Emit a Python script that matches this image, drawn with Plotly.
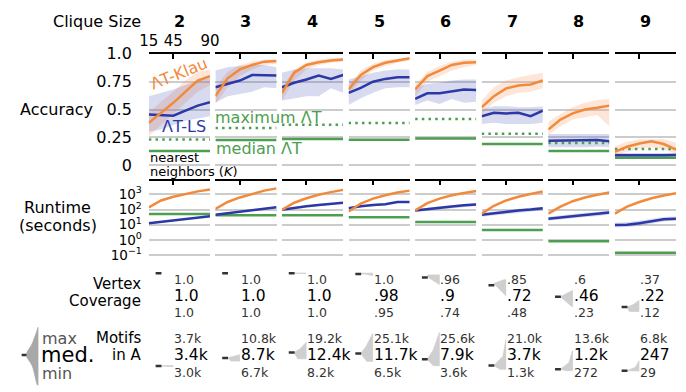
import plotly.graph_objects as go

# ---------------- data ----------------
K = [15, 30, 45, 60, 75, 90]
clique_sizes = ["2", "3", "4", "5", "6", "7", "8", "9"]

acc_klau = [
    [0.38, 0.47, 0.56, 0.66, 0.76, 0.80],
    [0.62, 0.78, 0.86, 0.90, 0.93, 0.935],
    [0.65, 0.83, 0.90, 0.925, 0.94, 0.95],
    [0.68, 0.81, 0.88, 0.92, 0.94, 0.96],
    [0.68, 0.80, 0.85, 0.90, 0.92, 0.925],
    [0.52, 0.62, 0.69, 0.715, 0.725, 0.76],
    [0.32, 0.41, 0.465, 0.50, 0.515, 0.535],
    [0.12, 0.165, 0.195, 0.215, 0.19, 0.14],
]
acc_klau_lo = [
    [0.26, 0.36, 0.46, 0.56, 0.66, 0.72],
    [0.55, 0.70, 0.80, 0.86, 0.90, 0.91],
    [0.58, 0.76, 0.86, 0.90, 0.92, 0.93],
    [0.64, 0.76, 0.85, 0.89, 0.92, 0.94],
    [0.62, 0.75, 0.80, 0.85, 0.88, 0.90],
    [0.46, 0.56, 0.62, 0.65, 0.66, 0.69],
    [0.27, 0.35, 0.41, 0.43, 0.45, 0.35],
    [0.09, 0.12, 0.15, 0.16, 0.14, 0.10],
]
acc_klau_hi = [
    [0.47, 0.57, 0.66, 0.76, 0.84, 0.86],
    [0.70, 0.84, 0.90, 0.93, 0.95, 0.95],
    [0.70, 0.86, 0.92, 0.95, 0.96, 0.965],
    [0.72, 0.85, 0.91, 0.94, 0.955, 0.965],
    [0.72, 0.84, 0.89, 0.93, 0.95, 0.95],
    [0.58, 0.70, 0.76, 0.79, 0.81, 0.83],
    [0.39, 0.46, 0.52, 0.56, 0.585, 0.595],
    [0.17, 0.21, 0.23, 0.235, 0.235, 0.20],
]
acc_ls = [
    [0.455, 0.45, 0.445, 0.49, 0.535, 0.565],
    [0.70, 0.73, 0.76, 0.81, 0.81, 0.805],
    [0.70, 0.74, 0.77, 0.805, 0.775, 0.81],
    [0.65, 0.695, 0.75, 0.775, 0.79, 0.79],
    [0.595, 0.645, 0.645, 0.66, 0.68, 0.675],
    [0.44, 0.47, 0.465, 0.47, 0.44, 0.49],
    [0.22, 0.22, 0.22, 0.22, 0.225, 0.215],
    [0.09, 0.088, 0.088, 0.088, 0.09, 0.092],
]
acc_ls_lo = [
    [0.30, 0.32, 0.36, 0.40, 0.42, 0.44],
    [0.56, 0.62, 0.64, 0.66, 0.70, 0.69],
    [0.58, 0.60, 0.62, 0.62, 0.69, 0.65],
    [0.54, 0.60, 0.65, 0.69, 0.70, 0.70],
    [0.54, 0.58, 0.55, 0.595, 0.56, 0.57],
    [0.37, 0.38, 0.37, 0.37, 0.37, 0.38],
    [0.16, 0.165, 0.16, 0.16, 0.165, 0.16],
    [0.07, 0.07, 0.07, 0.07, 0.072, 0.075],
]
acc_ls_hi = [
    [0.62, 0.65, 0.68, 0.72, 0.76, 0.78],
    [0.85, 0.88, 0.89, 0.90, 0.90, 0.88],
    [0.83, 0.86, 0.87, 0.87, 0.87, 0.86],
    [0.77, 0.80, 0.83, 0.85, 0.86, 0.86],
    [0.70, 0.73, 0.74, 0.76, 0.77, 0.77],
    [0.50, 0.53, 0.53, 0.52, 0.52, 0.53],
    [0.28, 0.28, 0.28, 0.285, 0.28, 0.28],
    [0.11, 0.11, 0.105, 0.105, 0.11, 0.11],
]
acc_max_T = [0.23, 0.335, 0.364, 0.378, 0.415, 0.283, 0.20, 0.145]
acc_med_T = [0.127, 0.225, 0.234, 0.228, 0.24, 0.19, 0.127, 0.067]

# runtime in seconds
rt_klau = [
    [141, 398, 708, 1122, 1585, 2089],
    [110, 316, 631, 1122, 1778, 2512],
    [95.5, 282, 562, 955, 1413, 1995],
    [74, 251, 525, 891, 1318, 1778],
    [87, 263, 525, 891, 1259, 1698],
    [54, 178, 398, 708, 1072, 1549],
    [54, 158, 355, 631, 955, 1349],
    [54, 158, 316, 562, 851, 1202],
]
rt_ls = [
    [12.3, 15.1, 19.1, 23.4, 28.8, 35.5],
    [45.7, 57.5, 75.9, 91.2, 112, 141],
    [95.5, 132, 166, 200, 240, 282],
    [120, 166, 200, 224, 316, 316],
    [87, 110, 132, 158, 191, 219],
    [46, 58, 72, 87, 100, 120],
    [25, 30, 38, 46, 50, 65],
    [9.5, 10, 12.6, 17.4, 22.9, 25.1],
]
rt_ls_lo = [
    [11, 13.5, 17, 21, 26, 32],
    [41, 52, 68, 82, 100, 126],
    [85, 118, 148, 178, 214, 252],
    [100, 140, 170, 190, 270, 270],
    [70, 85, 100, 120, 145, 170],
    [33, 42, 52, 63, 75, 90],
    [18, 21, 26, 32, 36, 47],
    [6.5, 7, 8.5, 12, 16.5, 18],
]
rt_ls_hi = [
    [14, 17, 21, 26, 32, 39],
    [51, 64, 85, 102, 125, 158],
    [107, 148, 186, 224, 269, 316],
    [140, 195, 235, 265, 370, 370],
    [105, 135, 165, 195, 235, 270],
    [60, 75, 95, 112, 130, 155],
    [33, 40, 52, 62, 68, 88],
    [13.5, 14.5, 18.5, 25, 32, 35],
]
rt_med_T = [50, 42, 42, 31, 15, 4.4, 0.8, 0.14]

cov_max = [1.0, 1.0, 1.0, 1.0, 0.96, 0.85, 0.6, 0.37]
cov_med = [1.0, 1.0, 1.0, 0.98, 0.9, 0.72, 0.46, 0.22]
cov_min = [1.0, 1.0, 0.998, 0.95, 0.74, 0.48, 0.23, 0.12]
cov_shape = [
    [0, 0, 0, 0], [0, 0, 0, 0], [1, 1, 1, 1], [0.1, 0.6, 1.0, 0.9],
    [0.0, 0.85, 1.0, 0.95], [0.0, 0.9, 1.0, 0.15], [0.05, 1.0, 0.6, 0.0],
    [0.8, 1.0, 0.5, 0.0],
]
mot_max = [3700, 10800, 19200, 25100, 25600, 21000, 13600, 6800]
mot_med = [3400, 8700, 12400, 11700, 7900, 3700, 1200, 247]
mot_min = [3000, 6700, 8200, 6500, 3600, 1300, 272, 29]
mot_shape = [
    [0.6, 1.0, 0.8, 0.3], [0.7, 1.0, 0.6, 0.05], [0.7, 1.0, 0.5, 0.0],
    [0.5, 1.0, 0.55, 0.0], [0.5, 1.0, 0.5, 0.0], [0.5, 1.0, 0.25, 0.0],
    [0.5, 1.0, 0.3, 0.0], [0.5, 1.0, 0.3, 0.0],
]
legend_v = [0.0, 0.33, 0.52, 0.72, 1.0]
legend_w = [0.05, 0.5, 1.0, 0.5, 0.0]


def cov_label(v):
    if v >= 0.995:
        return "1.0"
    s = f"{v:g}"
    return s[1:] if s.startswith("0") else s


def mot_label(v):
    return f"{v/1000:.1f}k" if v >= 1000 else str(v)


# ---------------- style ----------------
ORANGE = "#f28a3c"
BLUE = "#2b38a6"
GREEN = "#4c9e50"
ORANGE_BAND = "rgba(248,160,110,0.28)"
BLUE_BAND = "rgba(60,70,175,0.20)"
GRID = "#cccccc"
FONT = "DejaVu Sans"
W, H = 686, 392

col_left = [143 + 68.57 * k for k in range(8)]
col_w = 63


def X(px):
    return px / W


def Y(py):
    return 1 - py / H


fig = go.Figure()
layout = dict(width=W, height=H, margin=dict(l=0, r=0, t=0, b=0),
              paper_bgcolor="white", plot_bgcolor="rgba(0,0,0,0)",
              showlegend=False, font=dict(family=FONT, color="black"))


def names(n):
    return ("x" if n == 1 else f"x{n}"), ("y" if n == 1 else f"y{n}")


def set_axes(n, xd, yd, xa, ya):
    xn, yn = names(n)
    layout["xaxis" if n == 1 else f"xaxis{n}"] = dict(domain=xd, anchor=yn, **xa)
    layout["yaxis" if n == 1 else f"yaxis{n}"] = dict(domain=yd, anchor=xn, **ya)


def add(n, **kw):
    xn, yn = names(n)
    fig.add_trace(go.Scatter(xaxis=xn, yaxis=yn, hoverinfo="skip", **kw))


top_x = dict(range=[15, 90], side="top", showline=True, linecolor="black",
             linewidth=1.5, ticks="inside", ticklen=5, tickwidth=1.5,
             tickcolor="black", tickvals=[15, 45, 90], showgrid=False,
             zeroline=False, tickfont=dict(size=15, family=FONT))
hidden = dict(visible=False)

GW = 12.5
for k in range(8):
    xd = [X(col_left[k]), X(col_left[k] + col_w)]
    # ---- accuracy ----
    n = 1 + k
    set_axes(n, xd, [Y(173.5), Y(46.5)],
             dict(top_x, showticklabels=(k == 0)),
             dict(range=[-0.1, 1.0], tickvals=[0, 0.25, 0.5, 0.75, 1.0],
                  ticktext=["0", "0.25", "0.5", "0.75", "1.0"], showgrid=True,
                  gridcolor=GRID, gridwidth=1.5, zeroline=False, ticks="",
                  showticklabels=(k == 0), ticklabelstandoff=16,
                  tickfont=dict(size=16, family=FONT)))
    add(n, x=K + K[::-1], y=acc_klau_hi[k] + acc_klau_lo[k][::-1], fill="toself",
        fillcolor=ORANGE_BAND, line=dict(width=0), mode="lines")
    add(n, x=K + K[::-1], y=acc_ls_hi[k] + acc_ls_lo[k][::-1], fill="toself",
        fillcolor=BLUE_BAND, line=dict(width=0), mode="lines")
    add(n, x=[K[0], K[-1]], y=[acc_max_T[k]] * 2, mode="lines",
        line=dict(color=GREEN, width=2.5, dash="2.5px,4.2px"))
    add(n, x=[K[0], K[-1]], y=[acc_med_T[k]] * 2, mode="lines",
        line=dict(color=GREEN, width=2.5))
    add(n, x=K, y=acc_ls[k], mode="lines", line=dict(color=BLUE, width=2.5))
    add(n, x=K, y=acc_klau[k], mode="lines", line=dict(color=ORANGE, width=2.5))

    # ---- runtime ----
    n = 9 + k
    set_axes(n, xd, [Y(258.2), Y(178)],
             dict(top_x, showticklabels=False),
             dict(type="log", range=[-1.2, 3.91], tickvals=[0.1, 1, 10, 100, 1000],
                  ticktext=["10<sup>−1</sup>", "10<sup>0</sup>", "10<sup>1</sup>",
                            "10<sup>2</sup>", "10<sup>3</sup>"],
                  showgrid=True, gridcolor=GRID, gridwidth=1.5, zeroline=False,
                  ticks="", showticklabels=(k == 0), ticklabelstandoff=6,
                  tickfont=dict(size=13.5, family=FONT)))
    add(n, x=K + K[::-1], y=rt_ls_hi[k] + rt_ls_lo[k][::-1], fill="toself",
        fillcolor=BLUE_BAND, line=dict(width=0), mode="lines")
    add(n, x=[K[0], K[-1]], y=[rt_med_T[k]] * 2, mode="lines",
        line=dict(color=GREEN, width=2.5))
    add(n, x=K, y=rt_ls[k], mode="lines", line=dict(color=BLUE, width=2.5))
    add(n, x=K, y=rt_klau[k], mode="lines", line=dict(color=ORANGE, width=2.5))

    # ---- glyphs ----
    anchor = col_left[k] + 25
    gx = [X(anchor - 20), X(anchor + 0.5)]
    for n, yd, yr, vmin, vmed, vmax, w in [
        (17 + k, [Y(321.25), Y(271.75)], [-0.05, 1.05], cov_min[k], cov_med[k], cov_max[k], cov_shape[k]),
        (25 + k, [Y(377.06), Y(333.38)], [-1000, 27000], mot_min[k], mot_med[k], mot_max[k], mot_shape[k]),
    ]:
        set_axes(n, gx, yd, dict(hidden, range=[-20, 0.5]), dict(hidden, range=yr))
        if vmax > vmin:
            up = vmed + 0.35 * (vmax - vmed)
            add(n, x=[0, -GW * w[0], -GW * w[1], -GW * w[2], -GW * w[3], 0, 0],
                y=[vmin, vmin, vmed, up, vmax, vmax, vmin], fill="toself",
                fillcolor="#cfcfcf", mode="lines", line=dict(color="#cfcfcf", width=0.8))
        add(n, x=[-18, -12], y=[vmed, vmed], mode="lines", line=dict(color="#333333", width=2.5))

# ---- legend glyph ----
n = 33
set_axes(n, [X(7), X(29.5)], [Y(392), Y(328)], dict(hidden, range=[-22, 0.5]),
         dict(hidden, range=[-0.033, 1.033]))
add(n, x=[0, 0], y=[0, 1], mode="lines", line=dict(color="#d0d0d0", width=1.5))
add(n, x=[0] + [-12 * w for w in legend_w] + [0], y=[0] + legend_v + [1], fill="toself",
    fillcolor="#a8a8a8", mode="lines", line=dict(color="#a8a8a8", width=0.8, shape="spline"))
add(n, x=[-17, -12], y=[legend_v[2]] * 2, mode="lines", line=dict(color="#333333", width=2.5))

# ---------------- annotations ----------------
ann = []


def text(x, y, s, size, color="black", xanchor="center", **kw):
    ann.append(dict(x=X(x), y=Y(y), xref="paper", yref="paper", text=s, showarrow=False,
                    xanchor=xanchor, yanchor="middle", borderpad=0,
                    font=dict(size=size, color=color, family=FONT), **kw))


text(136, 13, "Clique Size", 16, xanchor="right")
for k in range(8):
    text(col_left[k] + col_w / 2, 13, f"<b>{clique_sizes[k]}</b>", 16)
    a = col_left[k] + 25
    text(a, 280, cov_label(cov_max[k]), 12.5, "#333333", xanchor="left")
    text(a, 297.7, cov_label(cov_med[k]), 15.5, xanchor="left")
    text(a, 314.3, cov_label(cov_min[k]), 12.5, "#333333", xanchor="left")
    text(a, 341.7, mot_label(mot_max[k]), 12.5, "#333333", xanchor="left")
    text(a, 359, mot_label(mot_med[k]), 15.5, xanchor="left")
    text(a, 377.3, mot_label(mot_min[k]), 12.5, "#333333", xanchor="left")

text(174, 67, "ΛT-Klau", 16, ORANGE, textangle=-22)
text(179, 122, "ΛT-LS", 16, BLUE)
text(266, 113, "maximum ΛT", 16, GREEN)
text(256.5, 145, "median ΛT", 16, GREEN)
text(143, 154, "nearest", 13, xanchor="left")
text(143, 168, "neighbors (<i>K</i>)", 13, xanchor="left")

text(48, 104, "Accuracy", 16)
text(49, 206, "Runtime", 16)
text(49, 224, "(seconds)", 16)
text(136, 285, "Vertex", 15, xanchor="right")
text(136, 303, "Coverage", 15, xanchor="right")
text(136, 341.7, "Motifs", 15, xanchor="right")
text(136, 359, "in A", 15, xanchor="right")

text(32, 341.5, "max", 16, "#555555", xanchor="left")
text(31, 359, "med.", 21, xanchor="left")
text(32, 378, "min", 16, "#555555", xanchor="left")

layout["annotations"] = ann
fig.update_layout(**layout)
fig.write_html("out.html")
